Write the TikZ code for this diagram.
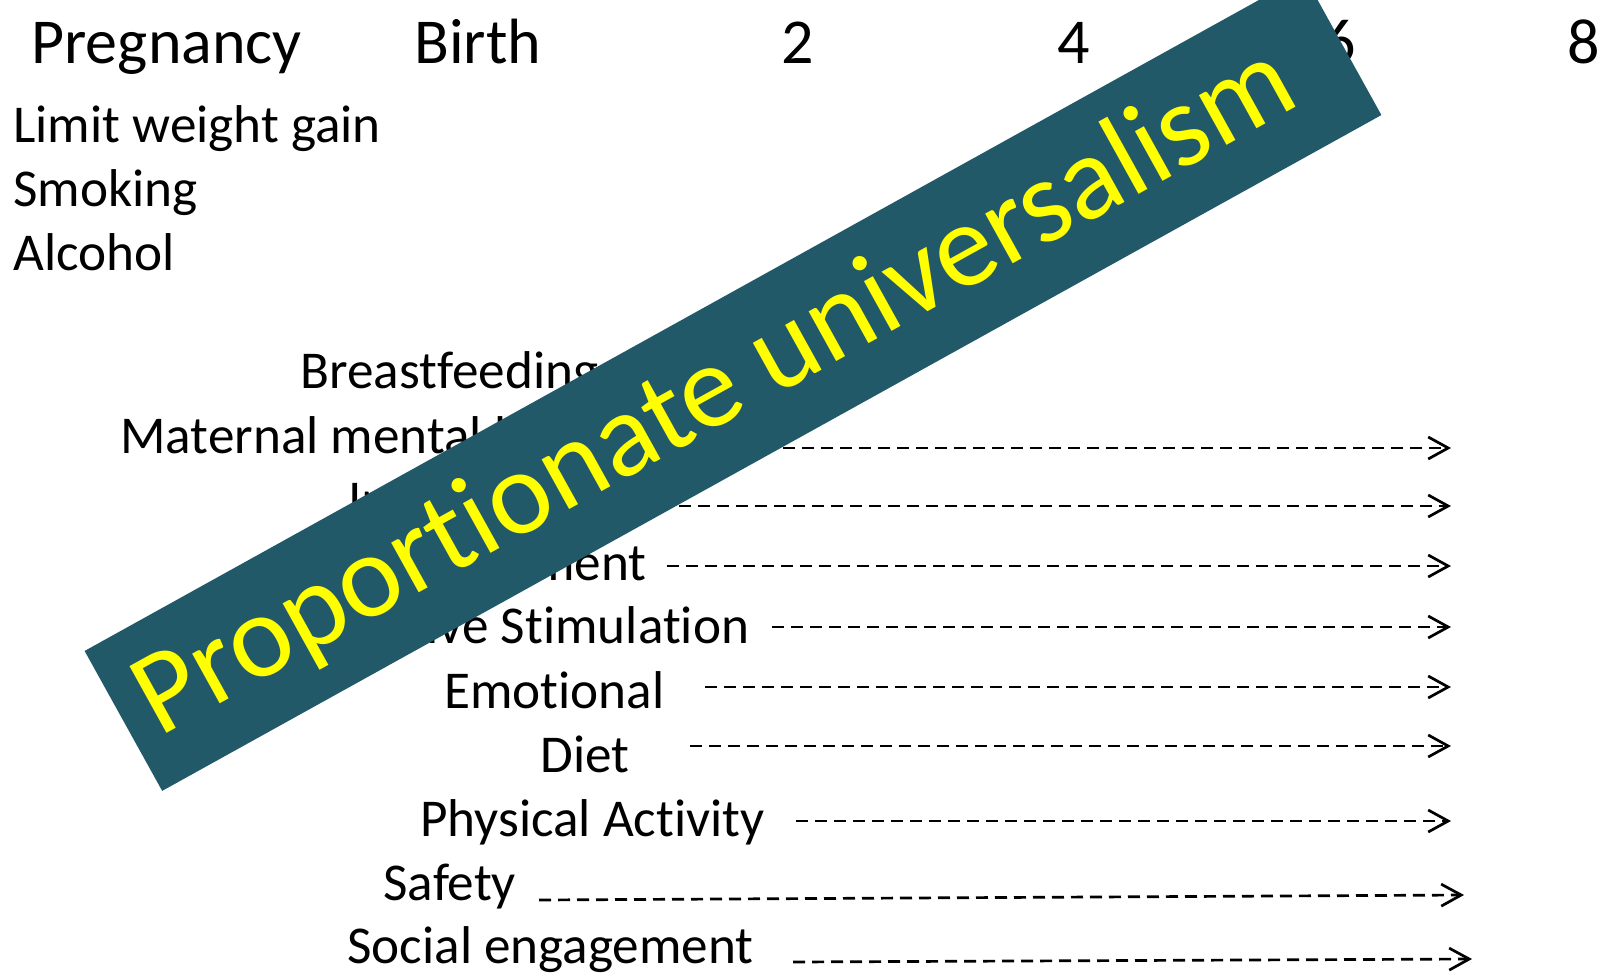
\documentclass[tikz,border=0pt]{standalone}
\usepackage{fontspec}
\setmainfont{Carlito}[RawFeature={-liga;-clig;-dlig;-calt}]
\usepackage{tikz}
\usetikzlibrary{arrows.meta}
\definecolor{banteal}{RGB}{33,89,104}
\definecolor{banyellow}{RGB}{255,255,0}
\tikzset{
  hdr/.style={anchor=base west, inner sep=0pt, font=\fontsize{32}{38}\selectfont},
  lbl/.style={anchor=base west, inner sep=0pt, font=\fontsize{26.6}{32}\selectfont},
  arrow/.style={-{Straight Barb[length=10pt,width=11pt]}, line width=1.35pt,
    dash pattern=on 6pt off 3.5pt},
  banner/.style={fill=banteal, rotate=29, minimum width=697pt,
    minimum height=80pt, inner sep=0pt},
  bantext/.style={rotate=29, inner xsep=12pt, inner ysep=0pt, text=banyellow,
    font=\fontsize{59.5}{70}\selectfont}
}

\begin{document}
\begin{tikzpicture}[x=0.5pt, y=-0.5pt]
  \path[use as bounding box, clip] (0,0) rectangle (1614,980);

  % Time line
  \node[hdr] (preg) at (31,63) {Pregnancy};
  \node[hdr] (birth) at (414,63) {Birth};
  \node[hdr] (y2) at (781,63) {2};
  \node[hdr] (y4) at (1057,63) {4};
  \node[hdr] (y6) at (1323,63) {6};
  \node[hdr] (y8) at (1567,63) {8};

  % Pregnancy
  \node[lbl] (wgt) at (13,142) {Limit weight gain};
  \node[lbl] (smk) at (13,206) {Smoking};
  \node[lbl] (alc) at (13,270) {Alcohol};

  % Early years
  \node[lbl] (bf) at (300,388) {Breastfeeding};
  \node[lbl] (mmh) at (120,453) {Maternal mental health};
  \node[lbl] (imm) at (348,517) {Immunisation};
  \node[lbl] (att) at (392,580) {Attachment};
  \node[lbl] (cog) at (287,643) {Cognitive Stimulation};
  \node[lbl] (emo) at (444,708) {Emotional};
  \node[lbl] (diet) at (540,772) {Diet};
  \node[lbl] (phys) at (420,836) {Physical Activity};
  \node[lbl] (safe) at (383,900) {Safety};
  \node[lbl] (soc) at (347,963) {Social engagement};

  % Arrows
  \coordinate (mmhA) at (669,448);  \coordinate (mmhB) at (1451,448);
  \coordinate (immA) at (660,506);  \coordinate (immB) at (1451,506);
  \coordinate (attA) at (667,566);  \coordinate (attB) at (1451,566);
  \coordinate (cogA) at (772,627);  \coordinate (cogB) at (1451,627);
  \coordinate (emoA) at (705,687);  \coordinate (emoB) at (1451,687);
  \coordinate (dietA) at (690,746); \coordinate (dietB) at (1451,746);
  \coordinate (physA) at (796,821); \coordinate (physB) at (1451,821);
  \coordinate (safeA) at (539,900); \coordinate (safeB) at (1464,895);
  \coordinate (socA) at (793,962);  \coordinate (socB) at (1472,959);
  \foreach \r in {mmh,imm,att,cog,emo,diet,phys,safe,soc}
    \draw[arrow] (\r A) -- (\r B);

  % Banner
  \node[banner] (banner) at (733,383) {};
  \node[bantext, anchor=west] (title) at (banner.west) {Proportionate universalism};
\end{tikzpicture}
\end{document}
